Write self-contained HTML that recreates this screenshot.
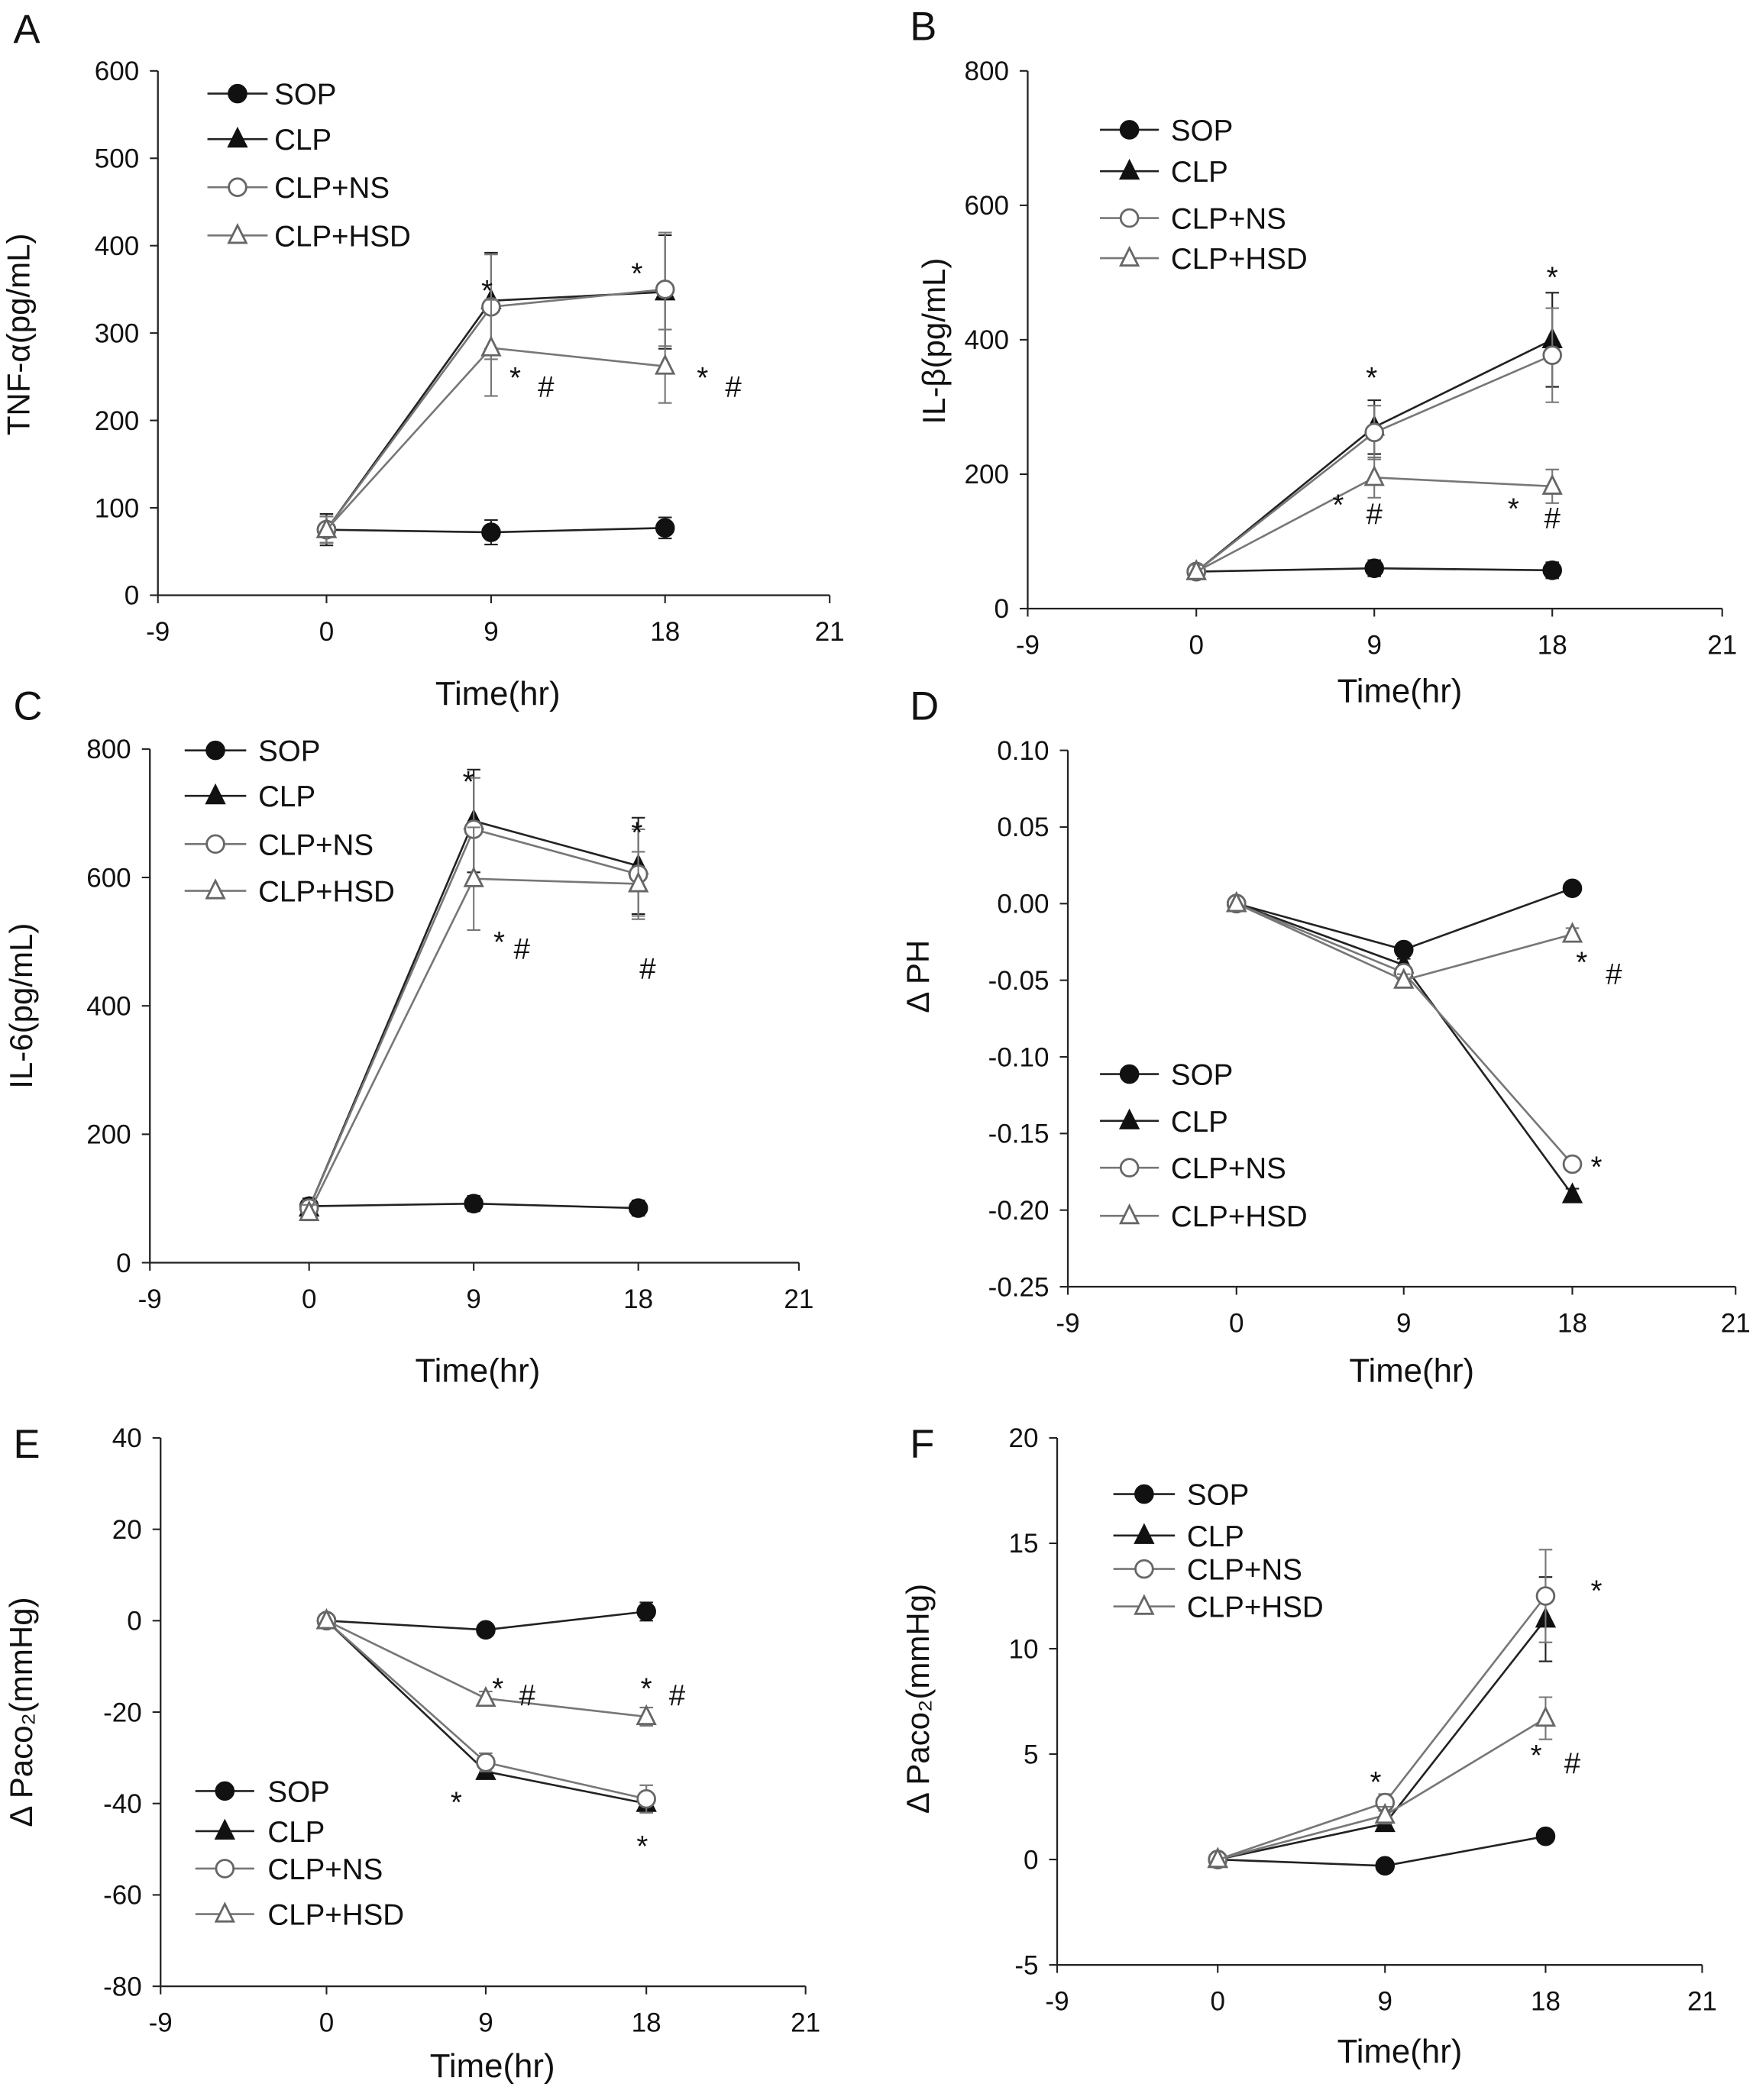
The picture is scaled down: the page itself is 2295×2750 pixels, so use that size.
<!DOCTYPE html>
<html><head><meta charset="utf-8"><style>
html,body{margin:0;padding:0;background:#fff;}
svg{display:block;}
text{font-family:"Liberation Sans",sans-serif;fill:#111;}
</style></head><body>
<svg id="fig" width="2295" height="2750" viewBox="0 0 1310 1570" preserveAspectRatio="none" xmlns="http://www.w3.org/2000/svg"></svg>
<script>
const xCategories = ["-9","0","9","18","21"];
const seriesNames = ["SOP","CLP","CLP+NS","CLP+HSD"];
const dataA_SOP=[75,72,77], dataA_CLP=[75,337,347], dataA_NS=[75,330,350], dataA_HSD=[75,283,262];
const errA_SOP=[18,14,12], errA_CLP=[15,55,65], errA_NS=[15,60,65], errA_HSD=[15,55,42];
const dataB_SOP=[55,60,57], dataB_CLP=[55,270,400], dataB_NS=[55,262,377], dataB_HSD=[55,195,182];
const errB_SOP=[10,12,12], errB_CLP=[10,40,70], errB_NS=[10,40,70], errB_HSD=[10,30,25];
const dataC_SOP=[88,92,85], dataC_CLP=[85,688,618], dataC_NS=[85,675,605], dataC_HSD=[78,598,590];
const errC_SOP=[12,12,12], errC_CLP=[12,80,75], errC_NS=[12,80,70], errC_HSD=[12,80,50];
const dataD_SOP=[0,-0.03,0.01], dataD_CLP=[0,-0.04,-0.19], dataD_NS=[0,-0.045,-0.17], dataD_HSD=[0,-0.05,-0.02];
const errD_SOP=[0,0.003,0.003], errD_CLP=[0,0.004,0.004], errD_NS=[0,0.004,0.004], errD_HSD=[0,0.004,0.004];
const dataE_SOP=[0,-2,2], dataE_CLP=[0,-33,-40], dataE_NS=[0,-31,-39], dataE_HSD=[0,-17,-21];
const errE_SOP=[0,1,2], errE_CLP=[0,1,2], errE_NS=[0,2,3], errE_HSD=[0,1.5,2];
const dataF_SOP=[0,-0.3,1.1], dataF_CLP=[0,1.7,11.4], dataF_NS=[0,2.7,12.5], dataF_HSD=[0,2.1,6.7];
const errF_SOP=[0,0.2,0.3], errF_CLP=[0,0.3,2], errF_NS=[0,0.4,2.2], errF_HSD=[0,0.4,1];
const ticksA=[0,100,200,300,400,500,600], ticksB=[0,200,400,600,800], ticksC=[0,200,400,600,800];
const ticksD=[0.10,0.05,0.00,-0.05,-0.10,-0.15,-0.20,-0.25], ticksE=[40,20,0,-20,-40,-60,-80], ticksF=[20,15,10,5,0,-5];

const NS="http://www.w3.org/2000/svg";
const svg=document.getElementById('fig');
function el(tag,attrs,parent){const e=document.createElementNS(NS,tag);for(const k in attrs)e.setAttribute(k,attrs[k]);(parent||svg).appendChild(e);return e;}

const panels=[
 {id:'a',letter:'A',lx:10,ly:32,ax:118,xs:[118,244,367,497,620],y0:445,y1:53,min:0,max:600,ticks:ticksA,dec:0,series:[dataA_SOP,dataA_CLP,dataA_NS,dataA_HSD],err:[errA_SOP,errA_CLP,errA_NS,errA_HSD],title:'TNF-α(pg/mL)',tx:22,ty:250,xt:[372,527],leg:[155,200,205,[70,104,140,176]],
  notes:[['*',364,225],['*',385,290],['#',408,297],['*',476,212],['*',525,290],['#',548,297]]},
 {id:'b',letter:'B',lx:680,ly:30,ax:768,xs:[768,894,1027,1160,1287],y0:455,y1:53,min:0,max:800,ticks:ticksB,dec:0,series:[dataB_SOP,dataB_CLP,dataB_NS,dataB_HSD],err:[errB_SOP,errB_CLP,errB_NS,errB_HSD],title:'IL-β(pg/mL)',tx:706,ty:255,xt:[1046,525],leg:[822,866,875,[97,128,163,193]],
  notes:[['*',1025,290],['*',1000,385],['#',1027,392],['*',1160,215],['*',1131,388],['#',1160,395]]},
 {id:'c',letter:'C',lx:10,ly:538,ax:112,xs:[112,231,354,477,597],y0:944,y1:560,min:0,max:800,ticks:ticksC,dec:0,series:[dataC_SOP,dataC_CLP,dataC_NS,dataC_HSD],err:[errC_SOP,errC_CLP,errC_NS,errC_HSD],title:'IL-6(pg/mL)',tx:24,ty:752,xt:[357,1033],leg:[138,184,193,[561,595,631,666]],
  notes:[['*',350,592],['*',373,712],['#',390,717],['*',476,630],['#',484,732]]},
 {id:'d',letter:'D',lx:680,ly:538,ax:798,xs:[798,924,1049,1175,1297],y0:962,y1:561,min:-0.25,max:0.10,ticks:ticksD,dec:2,series:[dataD_SOP,dataD_CLP,dataD_NS,dataD_HSD],err:[errD_SOP,errD_CLP,errD_NS,errD_HSD],title:'Δ PH',tx:694,ty:730,xt:[1055,1033],leg:[822,866,875,[803,838,873,909]],
  notes:[['*',1182,727],['#',1206,736],['*',1193,880]]},
 {id:'e',letter:'E',lx:10,ly:1090,ax:120,xs:[120,244,363,483,602],y0:1485,y1:1075,min:-80,max:40,ticks:ticksE,dec:0,series:[dataE_SOP,dataE_CLP,dataE_NS,dataE_HSD],err:[errE_SOP,errE_CLP,errE_NS,errE_HSD],title:'Δ Paco₂(mmHg)',tx:24,ty:1280,xt:[368,1553],leg:[146,190,200,[1339,1369,1397,1431]],
  notes:[['*',372,1270],['#',394,1275],['*',483,1270],['#',506,1275],['*',341,1355],['*',480,1388]]},
 {id:'f',letter:'F',lx:680,ly:1090,ax:790,xs:[790,910,1035,1155,1272],y0:1469,y1:1075,min:-5,max:20,ticks:ticksF,dec:0,series:[dataF_SOP,dataF_CLP,dataF_NS,dataF_HSD],err:[errF_SOP,errF_CLP,errF_NS,errF_HSD],title:'Δ Paco₂(mmHg)',tx:694,ty:1270,xt:[1046,1542],leg:[832,878,887,[1117,1148,1173,1201]],
  notes:[['*',1028,1340],['*',1193,1197],['*',1148,1320],['#',1175,1326]]}
];

function marker(g,kind,x,y,r){
 const col=kind<2?'#111':'#666';
 if(kind%2===0){el('circle',{cx:x,cy:y,r:r,fill:kind===0?'#111':'#fff',stroke:col,'stroke-width':1.6},g);}
 else{el('polygon',{points:`${x},${y-r-1} ${x-r},${y+r-1} ${x+r},${y+r-1}`,fill:kind===1?'#111':'#fff',stroke:col,'stroke-width':1.6},g);}
}

panels.forEach(p=>{
 const g=el('g',{});
 
 
 const yS=v=>p.y0+(v-p.min)/(p.max-p.min)*(p.y1-p.y0);
 const xS=i=>p.xs[i];
 let t=el('text',{x:p.lx,y:p.ly,'font-size':30},g); t.textContent=p.letter;
 
 
 const yAx=el('line',{x1:p.ax,y1:Math.min(p.y0,p.y1),x2:p.ax,y2:Math.max(p.y0,p.y1),stroke:'#222','stroke-width':1.3},g);
 
 
 const xAxisY=Math.max(p.y0,p.y1);
 const xAx=el('line',{x1:p.xs[0],y1:xAxisY,x2:p.xs[4],y2:xAxisY,stroke:'#222','stroke-width':1.3},g);
 
 
 p.ticks.forEach(v=>{
  const y=yS(v);
  el('line',{x1:p.ax-6,y1:y,x2:p.ax,y2:y,stroke:'#222','stroke-width':1.2},g);
  const tx=el('text',{x:p.ax-14,y:y+7,'font-size':20,'text-anchor':'end'},g);
  tx.textContent=v.toFixed(p.dec);
  
  
 });
 xCategories.forEach((c,i)=>{
  const x=xS(i);
  el('line',{x1:x,y1:xAxisY,x2:x,y2:xAxisY+6,stroke:'#222','stroke-width':1.2},g);
  const tx=el('text',{x:x,y:xAxisY+34,'font-size':20,'text-anchor':'middle'},g);
  tx.textContent=c;
  
  
 });
 const yt=el('text',{x:p.tx,y:p.ty,'font-size':24,'text-anchor':'middle',transform:`rotate(-90 ${p.tx} ${p.ty})`},g);
 yt.textContent=p.title;
 
 
 const xt=el('text',{x:p.xt[0],y:p.xt[1],'font-size':25,'text-anchor':'middle'},g);
 xt.textContent='Time(hr)';
 
 
 p.series.forEach((vals,k)=>{
  const col=k<2?'#222':'#777';
  const pts=vals.map((v,i)=>`${xS(i+1)},${yS(v)}`).join(' ');
  const ln=el('polyline',{points:pts,fill:'none',stroke:col,'stroke-width':1.5},g);
  
  
  vals.forEach((v,i)=>{
   const e=p.err[k][i];
   if(e>0){const x=xS(i+1);
    el('line',{x1:x,y1:yS(v-e),x2:x,y2:yS(v+e),stroke:col,'stroke-width':1.2},g);
    el('line',{x1:x-5,y1:yS(v+e),x2:x+5,y2:yS(v+e),stroke:col,'stroke-width':1.2},g);
    el('line',{x1:x-5,y1:yS(v-e),x2:x+5,y2:yS(v-e),stroke:col,'stroke-width':1.2},g);}
   const mg=el('g',{},g);
   
   
   marker(mg,k,xS(i+1),yS(v),6.5);
  });
 });
 const lg=el('g',{},g);
 
 
 seriesNames.forEach((n,k)=>{
  const y=p.leg[3][k];
  const col=k<2?'#222':'#777';
  const eg=el('g',{},lg);
  
  
  el('line',{x1:p.leg[0],y1:y,x2:p.leg[1],y2:y,stroke:col,'stroke-width':1.5},eg);
  marker(eg,k,(p.leg[0]+p.leg[1])/2,y,6.5);
  const tx=el('text',{x:p.leg[2],y:y+8,'font-size':22},eg);
  tx.textContent=n;
 });
 p.notes.forEach(nt=>{
  const tx=el('text',{x:nt[1],y:nt[2],'font-size':22,'text-anchor':'middle'},g);
  tx.textContent=nt[0];
  
  
 });
});
</script>
</body></html>
